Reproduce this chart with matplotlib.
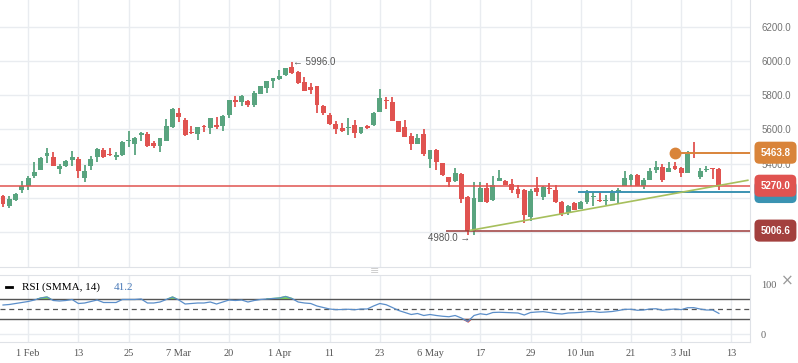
import matplotlib.pyplot as plt
import numpy as np

# daily OHLC
opens = [5212, 5149, 5184, 5243, 5270, 5329, 5365, 5443, 5440, 5366,
         5384, 5419, 5429, 5314, 5388, 5441, 5482, 5455, 5437, 5453,
         5533, 5514, 5565, 5576, 5518, 5502, 5535, 5613, 5694, 5653,
         5584, 5576, 5621, 5606, 5629, 5623, 5684, 5776, 5761, 5765,
         5743, 5808, 5841, 5882, 5894, 5918, 5965, 5935, 5876, 5847,
         5853, 5735, 5688, 5633, 5606, 5610, 5629, 5582, 5618, 5625,
         5702, 5776, 5763, 5647, 5612, 5559, 5514, 5571, 5425, 5478,
         5402, 5320, 5296, 5341, 5206, 5002, 5176, 5255, 5184, 5300,
         5300, 5282, 5253, 5247, 5088, 5259, 5202, 5255, 5247, 5176,
         5112, 5171, 5135, 5176, 5204, 5188, 5178, 5182, 5235, 5270,
         5306, 5335, 5270, 5306, 5365, 5382, 5353, 5388, 5376, 5347,
         5470, 5323, 5361, 5372, 5370]
highs = [5215, 5212, 5226, 5300, 5329, 5408, 5437, 5490, 5465, 5400,
         5420, 5476, 5437, 5394, 5447, 5490, 5494, 5494, 5465, 5531,
         5590, 5555, 5584, 5588, 5535, 5553, 5659, 5729, 5725, 5669,
         5618, 5614, 5629, 5667, 5676, 5684, 5773, 5794, 5802, 5776,
         5824, 5855, 5884, 5902, 5951, 5961, 5996, 5941, 5906, 5871,
         5855, 5741, 5694, 5647, 5641, 5665, 5653, 5614, 5629, 5702,
         5835, 5788, 5788, 5649, 5653, 5582, 5572, 5600, 5480, 5484,
         5404, 5322, 5376, 5343, 5208, 5294, 5294, 5284, 5329, 5365,
         5306, 5312, 5276, 5249, 5253, 5323, 5267, 5288, 5276, 5178,
         5155, 5176, 5182, 5247, 5231, 5231, 5218, 5247, 5259, 5359,
         5337, 5341, 5314, 5376, 5418, 5400, 5412, 5412, 5382, 5476,
         5529, 5376, 5388, 5374, 5376]
lows = [5145, 5137, 5180, 5228, 5243, 5314, 5363, 5404, 5383, 5337,
        5382, 5388, 5314, 5290, 5361, 5408, 5431, 5447, 5422, 5443,
        5496, 5453, 5531, 5500, 5490, 5467, 5531, 5611, 5643, 5563,
        5571, 5541, 5584, 5576, 5600, 5594, 5665, 5731, 5735, 5731,
        5731, 5806, 5814, 5841, 5888, 5912, 5927, 5869, 5823, 5808,
        5696, 5688, 5629, 5576, 5588, 5565, 5549, 5571, 5600, 5623,
        5700, 5722, 5649, 5586, 5555, 5478, 5512, 5447, 5372, 5361,
        5329, 5261, 5294, 5166, 4980, 4982, 5174, 5170, 5182, 5298,
        5274, 5225, 5196, 5053, 5065, 5208, 5184, 5223, 5170, 5090,
        5100, 5127, 5133, 5165, 5153, 5176, 5159, 5180, 5171, 5268,
        5270, 5268, 5253, 5304, 5347, 5294, 5351, 5365, 5323, 5345,
        5435, 5312, 5353, 5312, 5247]
closes = [5165, 5194, 5223, 5266, 5318, 5349, 5435, 5461, 5383, 5388,
          5418, 5441, 5355, 5359, 5424, 5484, 5441, 5451, 5449, 5529,
          5536, 5553, 5582, 5502, 5502, 5549, 5623, 5718, 5676, 5565,
          5580, 5612, 5615, 5665, 5612, 5682, 5771, 5761, 5794, 5743,
          5812, 5853, 5882, 5900, 5912, 5959, 5929, 5871, 5825, 5831,
          5743, 5694, 5631, 5602, 5590, 5612, 5582, 5612, 5606, 5696,
          5782, 5769, 5651, 5588, 5557, 5513, 5553, 5455, 5478, 5408,
          5331, 5290, 5347, 5194, 5002, 5200, 5259, 5172, 5272, 5318,
          5276, 5243, 5219, 5100, 5241, 5231, 5265, 5251, 5172, 5106,
          5153, 5129, 5176, 5229, 5208, 5178, 5188, 5229, 5247, 5318,
          5335, 5270, 5306, 5359, 5382, 5306, 5376, 5371, 5347, 5459,
          5465, 5359, 5370, 5368, 5272]

rsi = [58, 59, 61, 63, 65, 68, 72, 74, 67, 66,
       67, 69, 61, 62, 65, 68, 63, 63, 63, 69,
       69, 69, 70, 62, 62, 64, 69, 74, 68, 60,
       61, 62, 62, 64, 60, 64, 68, 67, 68, 64,
       67, 69, 70, 71, 72, 75, 71, 64, 62, 61,
       56, 53, 50, 48.7, 49, 49.5, 48.5, 50, 50, 56,
       61, 58.6, 53, 47, 43, 39, 41, 37, 39, 37,
       35.5, 34.5, 37, 32, 25, 37, 40.5, 38.7, 43, 43.5,
       43, 42.5, 42, 38, 43, 44, 44.7, 43, 41, 40,
       42, 42.5, 43.3, 44.5, 45, 43.3, 44, 45, 47, 49.3,
       49.5, 47.5, 48, 50, 50.5, 47.5, 49, 50, 48.7, 52.5,
       52.7, 50, 48, 48, 41.2]

tick_pos = [4, 12, 20, 28, 36, 44, 52, 60, 68, 76, 84, 92, 100, 108, 116]
tick_labels = ["1 Feb", "13", "25", "7 Mar", "20", "1 Apr", "11", "23",
               "6 May", "17", "29", "10 Jun", "21", "3 Jul", "13"]
price_ticks = [5000, 5200, 5400, 5600, 5800, 6000, 6200]

# drawn levels: price, first bar
level_orange = [5463.8, 107]
level_red = [5270.0, 0]
level_blue = [5233.0, 92]
level_dark = [5006.6, 71]
trend_idx = [74.4, 118.6]
trend_price = [5008, 5302]
peak = [46, 5996.0]
trough = [74, 4980.0]

green = '#59a47f'
red = '#e05350'
grid = '#e9ecf0'
W, H = 798, 363

fig = plt.figure(figsize=(W / 100, H / 100), dpi=100)
ax = fig.add_axes([0, 1 - 267 / H, 750 / W, 267 / H])
ax2 = fig.add_axes([0, 1 - 342 / H, 750 / W, 67 / H])

o, h, l, c = map(np.array, (opens, highs, lows, closes))
idx = np.arange(len(c))
cols = np.where(c >= o, green, red)
ax.vlines(idx, l, h, colors=cols, lw=1.3, zorder=3)
ax.bar(idx, np.maximum(np.abs(c - o), 4), bottom=np.minimum(o, c),
       width=0.78, color=cols, zorder=3)

ax.set_xlim(-0.48, 118.95)
ax.set_ylim(4793, 6360)
ax.set_xticks(tick_pos)
ax.set_xticklabels([])
ax.set_yticks(price_ticks)
# 5000 and 5200 sit under the level tags, as in the original
ax.set_yticklabels(['' if v < 5400 else '%.1f' % v for v in price_ticks],
                   family='Liberation Sans', fontsize=7, color='#737373')
ax.yaxis.tick_right()
ax.tick_params(length=0, pad=8)
ax.grid(True, color=grid, lw=1)
for s in ['left', 'top']:
    ax.spines[s].set_visible(False)
for s in ['right', 'bottom']:
    ax.spines[s].set_color('#dfe2e7')

# levels and trend
ax.axhline(level_red[0], color=red, lw=1.1, zorder=4)
ax.hlines(level_blue[0], level_blue[1] - 0.5, 119, color='#3b93b2', lw=1.4, zorder=4)
ax.hlines(level_dark[0], level_dark[1] - 0.5, 119, color='#9d3a3a', lw=1.1, zorder=4)
ax.hlines(level_orange[0], level_orange[1], 119, color='#d9843a', lw=1.4, zorder=4)
ax.plot(level_orange[1], level_orange[0], 'o', ms=7.5, color='#d9843a', zorder=5)
ax.plot(trend_idx, trend_price, color='#a6bf5c', lw=1.2, zorder=4)

ax.text(peak[0] + 0.2, peak[1], '\u2190 %.1f' % peak[1], fontsize=7,
        color='#555555', va='center', ha='left', family='Liberation Sans')
ax.text(trough[0] + 0.4, trough[1] - 18, '%.1f \u2192' % trough[1], fontsize=7,
        color='#555555', va='center', ha='right', family='Liberation Sans')

# price tags on the right; the red tag covers most of the blue one
tr = ax.get_yaxis_transform()
for val, col, z in [(level_blue[0], '#3b93b2', 6), (level_red[0], '#e05350', 7),
                    (level_orange[0], '#d9843a', 7), (level_dark[0], '#a3403e', 7)]:
    ax.text(1.014, val, '%.1f' % val, transform=tr, ha='left', va='center',
            fontsize=7, color='white', fontweight='bold', family='Liberation Sans',
            clip_on=False, zorder=z,
            bbox=dict(boxstyle='round,pad=0.62,rounding_size=0.5', fc=col, ec='none'))

# RSI panel
r = np.array(rsi)
ax2.plot(idx, r, color='#5b8ec9', lw=0.9, zorder=3)
ax2.fill_between(idx, r, 70, where=r > 70, interpolate=True, color='#7ee05c', zorder=2)
ax2.fill_between(idx, r, 30, where=r < 30, interpolate=True, color='#e05350', zorder=2)
ax2.axhline(70, color='#555555', lw=1)
ax2.axhline(30, color='#555555', lw=1)
ax2.axhline(50, color='#555555', lw=0.9, ls=(0, (4, 3)))
ax2.axhline(0, color=grid, lw=1)
ax2.set_xlim(-0.48, 118.95)
ax2.set_ylim(-16, 118)
ax2.set_xticks(tick_pos)
ax2.set_xticklabels(tick_labels, family='Liberation Serif', fontsize=7.5, color='#555555')
ax2.set_yticks([0, 100])
ax2.set_yticklabels(['0', '100'], family='Liberation Serif', fontsize=7.5, color='#666666')
ax2.yaxis.tick_right()
ax2.tick_params(length=0, pad=8)
ax2.tick_params(axis='x', pad=5)
ax2.grid(True, axis='x', color=grid, lw=1)
ax2.spines['left'].set_visible(False)
for s in ['right', 'top', 'bottom']:
    ax2.spines[s].set_color('#dfe2e7')

ax2.plot([0.008, 0.016], [0.82, 0.82], transform=ax2.transAxes, color='black', lw=2)
ax2.text(0.029, 0.82, 'RSI (SMMA, 14)', transform=ax2.transAxes, va='center',
         family='Liberation Serif', fontsize=8, color='black')
ax2.text(0.151, 0.82, '%.1f' % rsi[-1], transform=ax2.transAxes, va='center',
         family='Liberation Serif', fontsize=8, color='#4a7ab8')

fig.text(787 / W, 1 - 281 / H, '\u00d7', ha='center', va='center', fontsize=11, color='#999999')
fig.text(375 / W, 1 - 271 / H, '\u2261', ha='center', va='center', fontsize=8, color='#cccccc')

fig.savefig('out.png', dpi=100)
